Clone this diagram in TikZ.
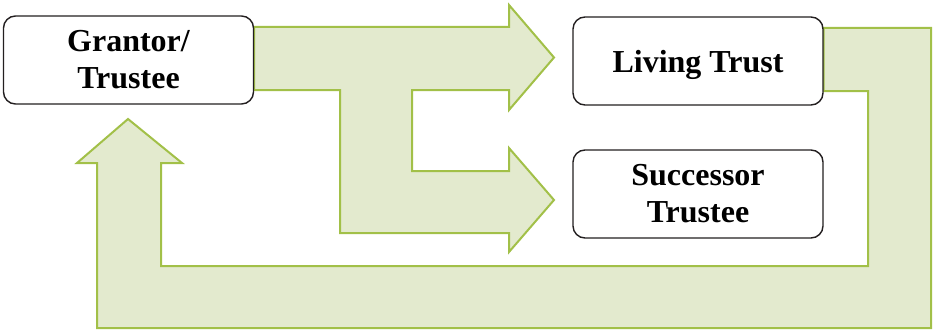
\documentclass[tikz,border=0pt]{standalone}
\usepackage{fontspec}
\setmainfont{Liberation Serif}
\usetikzlibrary{backgrounds}

\definecolor{arrowfill}{RGB}{227,234,206}
\definecolor{arrowline}{RGB}{162,192,72}
\definecolor{boxline}{RGB}{35,31,32}

\begin{document}
\begin{tikzpicture}[
  x = 1pt, y = -1pt,
  party/.style = {draw = boxline, line width = 1.4pt, fill = white,
    rounded corners = 12pt, minimum width = 250pt, minimum height = 88pt,
    align = center, inner sep = 0pt,
    font = \fontsize{32}{37}\selectfont\bfseries},
  flow/.style = {draw = arrowline, fill = arrowfill, line width = 2pt,
    line join = miter}
]
\useasboundingbox (0,0) rectangle (933,329);

\node [party] (grantor)   at (128.5,60) {Grantor/\\Trustee};
\node [party, text depth = 0pt] (living) at (698,61) {Living Trust};
\node [party] (successor) at (698,194)  {Successor\\Trustee};

\begin{scope}[on background layer]
  % split arrow to the trust and the successor
  \draw [flow] (grantor.east |- 0,27) -- (509,27) -- (509,5) -- (554,57.5)
    -- (509,110) -- (509,90) -- (412,90) -- (412,171) -- (509,171)
    -- (509,148) -- (554,200) -- (509,252) -- (509,233) -- (340,233)
    -- (340,90) -- (grantor.east |- 0,90) -- cycle;
  % return arrow back to the grantor
  \draw [flow] (living.east |- 0,28) -- (931,28) -- (931,328) -- (97,328)
    -- (97,163) -- (77,163) -- (128,119) -- (182,163) -- (161,163)
    -- (161,266) -- (868,266) -- (868,91) -- (living.east |- 0,91) -- cycle;
\end{scope}

\end{tikzpicture}
\end{document}
